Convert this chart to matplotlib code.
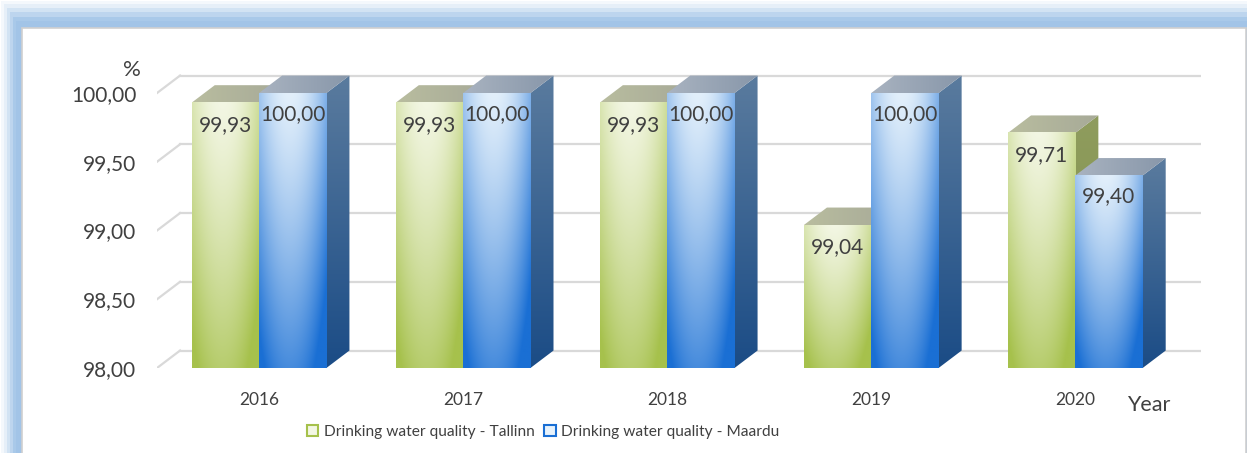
import numpy as np
import matplotlib
matplotlib.use('Agg')
import matplotlib.pyplot as plt
from matplotlib.patches import Rectangle, Polygon, Patch
from matplotlib.colors import to_rgb

years = ['2016', '2017', '2018', '2019', '2020']
tallinn = [99.93, 99.93, 99.93, 99.04, 99.71]
maardu = [100.00, 100.00, 100.00, 100.00, 99.40]
series_names = ['Drinking water quality - Tallinn', 'Drinking water quality - Maardu']
y_ticks = [98.0, 98.5, 99.0, 99.5, 100.0]

plt.rcParams['font.family'] = ['Lato', 'DejaVu Sans']
TXT = '#404040'

# colours: front light/dark, side top/bottom, top face front/back
GREEN = dict(front=('#f5f8e8', '#a6c14c'), side=('#8f9c5e', '#7f9247'), top=('#b9bd9f', '#a7aa98'))
BLUE = dict(front=('#e8f3fc', '#1a6fd4'), side=('#5a7b9e', '#1b4c86'), top=('#a9b3c0', '#8897aa'))

BASE = 98.0
W = 0.33          # bar width (category units)
DX = 0.113        # depth offset in x (data units)
DY = 0.127        # depth offset in y (data units)


def front_gradient(light, dark, n=120):
    v = np.linspace(0, 1, n)[:, None]
    h = np.linspace(0, 1, 60)[None, :]
    m = np.clip(0.03 + 0.75 * v ** 1.2 + 1.6 * (h - 0.45) ** 2, 0, 1)
    lo, hi = np.array(to_rgb(light)), np.array(to_rgb(dark))
    return lo * (1 - m[..., None]) + hi * m[..., None]


def vert_gradient(c_top, c_bot, n=100):
    m = np.linspace(0, 1, n)[:, None, None]
    lo, hi = np.array(to_rgb(c_top)), np.array(to_rgb(c_bot))
    return lo * (1 - m) + hi * m * np.ones((1, 2, 1))


def horiz_gradient(c_left, c_right, n=100):
    m = np.linspace(0, 1, n)[None, :, None]
    lo, hi = np.array(to_rgb(c_left)), np.array(to_rgb(c_right))
    return lo * (1 - m) + hi * m * np.ones((2, 1, 1))


def draw_bar(ax, x0, val, style, z):
    x1 = x0 + W
    # side face
    side = Polygon([(x1, BASE), (x1 + DX, BASE + DY), (x1 + DX, val + DY), (x1, val)],
                   closed=True, facecolor='none', edgecolor='none', zorder=z)
    ax.add_patch(side)
    im = ax.imshow(vert_gradient(*style['side']), extent=(x1, x1 + DX, BASE, val + DY),
                   origin='upper', aspect='auto', zorder=z, interpolation='bilinear')
    im.set_clip_path(side)
    # top face
    top = Polygon([(x0, val), (x1, val), (x1 + DX, val + DY), (x0 + DX, val + DY)],
                  closed=True, facecolor='none', edgecolor='none', zorder=z)
    ax.add_patch(top)
    im = ax.imshow(horiz_gradient(*style['top']), extent=(x0, x1 + DX, val, val + DY),
                   origin='upper', aspect='auto', zorder=z, interpolation='bilinear')
    im.set_clip_path(top)
    # front face
    ax.imshow(front_gradient(*style['front']), extent=(x0, x1, BASE, val),
              origin='upper', aspect='auto', zorder=z + 0.1, interpolation='bilinear')


def main():
    fig = plt.figure(figsize=(12.47, 4.53), dpi=100)

    # background frame
    bg = fig.add_axes([0, 0, 1, 1], zorder=-10)
    bg.set_xlim(0, 1247)
    bg.set_ylim(453, 0)
    bg.axis('off')
    frame = [(1, 1, '#f4f8fc'), (4, 4, '#e6eff8'), (7, 8, '#d2e3f3'),
             (10, 12, '#bdd5ee'), (13, 17, '#a9c9e9'), (16, 21, '#a2c4e7')]
    for x, y, c in frame:
        bg.add_patch(Rectangle((x, y), 1300, 500, facecolor=c, edgecolor='none'))
    bg.add_patch(Rectangle((22, 28), 1223.5, 480, facecolor='white', edgecolor='#d0d0d0', lw=1.2))

    ax = fig.add_axes([157 / 1247, 85 / 453, 1044 / 1247, 295.6 / 453])
    ax.set_facecolor('none')
    ax.set_xlim(-0.5, 4.5 + DX + 0.003)
    ax.set_ylim(98, 100.15)
    for s in ax.spines.values():
        s.set_visible(False)

    # back wall gridlines and side wall diagonals
    for v in y_ticks:
        ax.plot([-0.5 + DX, 4.5 + DX], [v + DY, v + DY], color='#d9d9d9', lw=1.6, zorder=0)
        ax.plot([-0.5, -0.5 + DX], [v, v + DY], color='#d9d9d9', lw=1.6, zorder=0)

    x = np.arange(len(years))
    for i in range(len(years)):
        draw_bar(ax, x[i] - W, tallinn[i], GREEN, 2)
        draw_bar(ax, x[i], maardu[i], BLUE, 3)
        ax.annotate(f'{tallinn[i]:.2f}'.replace('.', ','), (x[i] - W / 2, tallinn[i]),
                    xytext=(0, -22), textcoords='offset pixels', ha='center', va='center',
                    fontsize=15, color=TXT, zorder=10)
        ax.annotate(f'{maardu[i]:.2f}'.replace('.', ','), (x[i] + W / 2, maardu[i]),
                    xytext=(0, -21), textcoords='offset pixels', ha='center', va='center',
                    fontsize=15, color=TXT, zorder=10)

    ax.set_xticks(x)
    ax.set_xticklabels(years, fontsize=12.5, color=TXT)
    ax.set_yticks(y_ticks)
    ax.set_yticklabels([f'{v:.2f}'.replace('.', ',') for v in y_ticks], fontsize=15, color=TXT)
    ax.tick_params(axis='x', length=0, pad=17)
    ax.tick_params(axis='y', length=0, pad=15)

    fig.text(132 / 1247, 1 - 70 / 453, '%', fontsize=16, color=TXT, ha='center', va='center')
    fig.text(1149 / 1247, 1 - 405 / 453, 'Year', fontsize=15.5, color=TXT, ha='center', va='center')

    handles = [Patch(facecolor='#f3f7e4', edgecolor='#a6c14c', lw=1.5),
               Patch(facecolor='#e8f3fc', edgecolor='#1a6fd4', lw=1.5)]
    fig.legend(handles, series_names, loc='center', bbox_to_anchor=(543 / 1247, 1 - 432 / 453),
               ncol=2, frameon=False, fontsize=11.2, handlelength=0.75, handleheight=0.75,
               handletextpad=0.35, columnspacing=0.6, labelcolor=TXT)

    fig.savefig('out.png', dpi=100)


if __name__ == '__main__':
    main()
